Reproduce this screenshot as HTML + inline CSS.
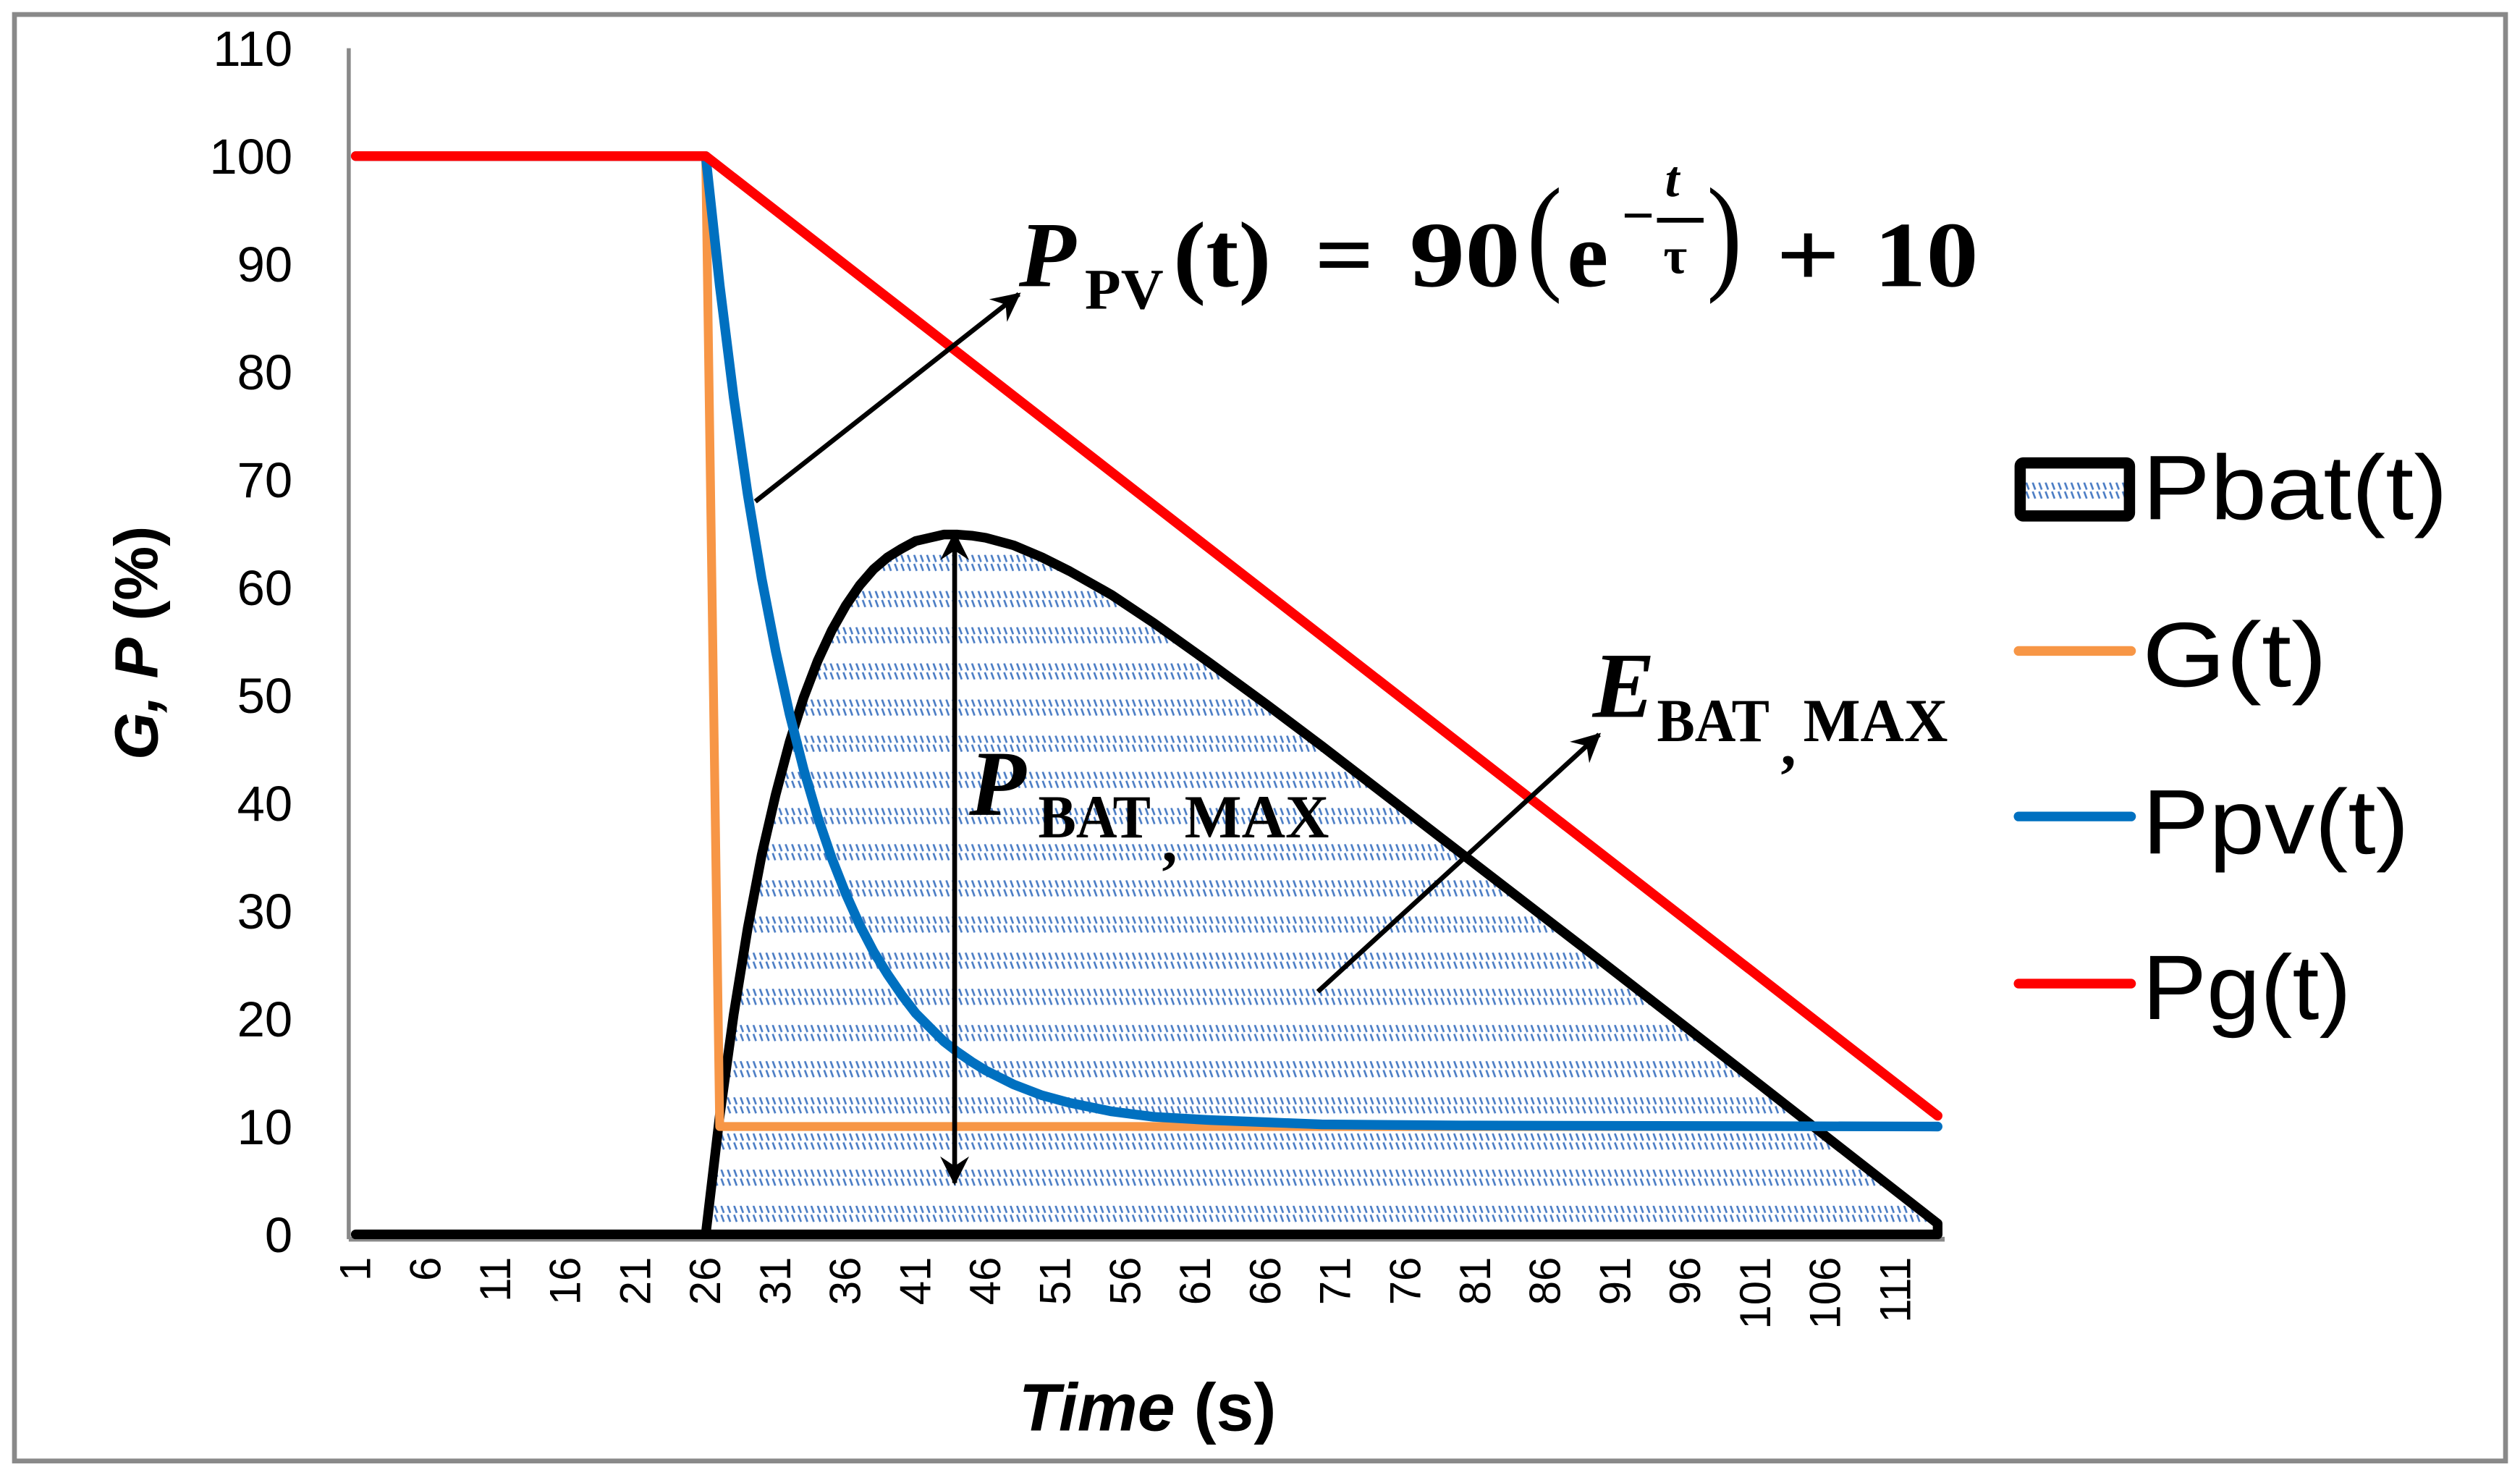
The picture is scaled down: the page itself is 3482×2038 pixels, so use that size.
<!DOCTYPE html>
<html><head><meta charset="utf-8"><style>
html,body{margin:0;padding:0;background:#fff;}
svg{display:block;}
</style></head><body>
<svg id="chart" width="3482" height="2038" viewBox="0 0 1568 917.7" xmlns="http://www.w3.org/2000/svg">
<defs>
<pattern id="hatch" patternUnits="userSpaceOnUse" x="0" y="7.7" width="4" height="22.5">
<line x1="0.8" y1="0" x2="2.4" y2="4.4" stroke="#4a7cc4" stroke-width="1.2"/>
<line x1="0.8" y1="5.6" x2="2.4" y2="10" stroke="#4a7cc4" stroke-width="1.2"/>
</pattern>
<marker id="head" viewBox="0 0 12 12" refX="11" refY="6" markerWidth="6" markerHeight="6" orient="auto-start-reverse" markerUnits="strokeWidth">
<path d="M0,0 L12,6 L0,12 L4,6 z" fill="#000"/>
</marker>
</defs>
<rect x="9" y="9" width="1550" height="900" fill="#fff" stroke="#898989" stroke-width="3"/>
<g id="plot"></g>
<g id="annot" font-family="'Liberation Serif', serif" font-weight="bold" fill="#000">
  <line x1="470" y1="312" x2="634" y2="183" stroke="#000" stroke-width="3" marker-end="url(#head)"/>
  <line x1="820" y1="617" x2="995" y2="457" stroke="#000" stroke-width="3" marker-end="url(#head)"/>
  <line x1="594" y1="332" x2="594" y2="736" stroke="#000" stroke-width="3" marker-start="url(#head)" marker-end="url(#head)"/>
  <g>
    <text x="634" y="178" font-size="58" font-style="italic">P</text>
    <text x="675" y="192" font-size="36" textLength="49" lengthAdjust="spacingAndGlyphs">PV</text>
    <text x="730" y="178" font-size="58" textLength="61" lengthAdjust="spacingAndGlyphs">(t)</text>
    <text x="818" y="178" font-size="58" textLength="37" lengthAdjust="spacingAndGlyphs">=</text>
    <text x="877" y="178" font-size="58" textLength="69" lengthAdjust="spacingAndGlyphs">90</text>
    <text x="950" y="172" font-size="80" font-weight="normal" textLength="22" lengthAdjust="spacingAndGlyphs">(</text>
    <text x="975" y="178" font-size="58">e</text>
    <text x="1009" y="146" font-size="36">−</text>
    <text x="1036" y="122" font-size="32" font-style="italic">t</text>
    <line x1="1031" y1="137" x2="1060" y2="137" stroke="#000" stroke-width="3"/>
    <text x="1035" y="170" font-size="32">τ</text>
    <text x="1062" y="172" font-size="80" font-weight="normal" textLength="22" lengthAdjust="spacingAndGlyphs">)</text>
    <text x="1105" y="178" font-size="58" textLength="40" lengthAdjust="spacingAndGlyphs">+</text>
    <text x="1166" y="178" font-size="58" textLength="65" lengthAdjust="spacingAndGlyphs">10</text>
  </g>
  <g>
    <text x="991" y="446" font-size="58" font-style="italic">E</text>
    <text x="1031" y="461" font-size="38" textLength="70" lengthAdjust="spacingAndGlyphs">BAT</text>
    <text x="1108" y="476" font-size="38">,</text>
    <text x="1122" y="461" font-size="38" textLength="90" lengthAdjust="spacingAndGlyphs">MAX</text>
  </g>
  <g>
    <text x="603" y="507" font-size="58" font-style="italic">P</text>
    <text x="646" y="521" font-size="38" textLength="70" lengthAdjust="spacingAndGlyphs">BAT</text>
    <text x="723" y="536" font-size="38">,</text>
    <text x="737" y="521" font-size="38" textLength="90" lengthAdjust="spacingAndGlyphs">MAX</text>
  </g>
</g>
<g id="legend" font-family="'Liberation Sans', sans-serif" font-size="57" fill="#000">
  <g>
    <rect x="1257" y="288" width="68" height="33" rx="2" fill="url(#hatch)" stroke="#000" stroke-width="7"/>
    <text x="1333" y="323" textLength="190" lengthAdjust="spacingAndGlyphs">Pbat(t)</text>
  </g>
  <g>
    <line x1="1256" y1="405" x2="1326" y2="405" stroke="#f79646" stroke-width="6" stroke-linecap="round"/>
    <text x="1333" y="427" textLength="115" lengthAdjust="spacingAndGlyphs">G(t)</text>
  </g>
  <g>
    <line x1="1256" y1="508" x2="1326" y2="508" stroke="#0070c0" stroke-width="6" stroke-linecap="round"/>
    <text x="1333" y="531" textLength="166" lengthAdjust="spacingAndGlyphs">Ppv(t)</text>
  </g>
  <g>
    <line x1="1256" y1="612" x2="1326" y2="612" stroke="#ff0000" stroke-width="6" stroke-linecap="round"/>
    <text x="1333" y="634" textLength="130" lengthAdjust="spacingAndGlyphs">Pg(t)</text>
  </g>
</g>
<text transform="translate(98,400) rotate(-90)" text-anchor="middle" font-family="'Liberation Sans', sans-serif" font-weight="bold" font-size="38"><tspan font-style="italic">G, P</tspan> (%)</text>
<text x="714" y="890" text-anchor="middle" font-family="'Liberation Sans', sans-serif" font-weight="bold" font-size="42"><tspan font-style="italic">Time</tspan> (s)</text>
</svg>
<script>
const nCats = 114;
const yTicks = [0,10,20,30,40,50,60,70,80,90,100,110];
const xTickLabels = [1,6,11,16,21,26,31,36,41,46,51,56,61,66,71,76,81,86,91,96,101,106,111];
const pgT = [1,26,114];
const pgV = [100,100,11];
const gT = [1,26,27,114];
const gV = [100,100,10,10];
const pvT = [1,26,27,28,29,30,31,32,33,34,35,36,37,38,39,40,41,42,43,44,45,46,48,50,52,55,58,62,66,70,80,114];
const pvV = [100,100,88,77.6,68.6,60.8,54.1,48.2,43.1,38.7,34.9,31.6,28.7,26.2,24.1,22.2,20.5,19.2,17.9,16.9,16,15.2,13.9,12.9,12.2,11.4,10.9,10.6,10.4,10.2,10.1,10];
const batT = [1,26,27,28,29,30,31,32,33,34,35,36,37,38,39,40,41,42,43,44,45,46,48,50,52,55,58,62,66,70,80,90,100,114];
const batV = [0,0,11,20.4,28.4,35.2,40.8,45.7,49.8,53.2,56,58.3,60.2,61.7,62.8,63.6,64.3,64.6,64.9,64.9,64.8,64.6,63.9,62.8,61.5,59.3,56.7,53,49.2,45.3,35.3,25.3,15.2,1];

const NS = 'http://www.w3.org/2000/svg';
const L = 217, R = 1210, Y0 = 768, YTOP = 30;
const step = (R - L) / nCats;
function xs(t){ return L + (t - 0.5) * step; }
function ys(v){ return Y0 - v * (Y0 - YTOP) / 110; }
const plot = document.getElementById('plot');
function mk(tag, attrs){ const e = document.createElementNS(NS, tag); for (const k in attrs) e.setAttribute(k, attrs[k]); plot.appendChild(e); return e; }
function pts(T, V){ return T.map((t,i)=>xs(t).toFixed(2)+','+ys(V[i]).toFixed(2)).join(' '); }

const ya = mk('line', {x1:L, y1:YTOP, x2:L, y2:Y0+3, stroke:'#898989', 'stroke-width':2.5});


const xa = mk('line', {x1:L, y1:Y0+3, x2:R, y2:Y0+3, stroke:'#898989', 'stroke-width':3});



yTicks.forEach(v=>{
  const t = mk('text', {x:182, y:ys(v)+11, 'text-anchor':'end', 'font-family':"'Liberation Sans', sans-serif", 'font-size':31});
  
  
  t.textContent = v;
});
xTickLabels.forEach(c=>{
  const x = xs(c) + 9;
  const t = mk('text', {transform:`translate(${x},782) rotate(-90)`, 'text-anchor':'end', 'font-family':"'Liberation Sans', sans-serif", 'font-size':27});
  
  
  t.textContent = c;
});

const areaPts = pts(batT, batV) + ' ' + xs(batT[batT.length-1]).toFixed(2) + ',' + ys(0) + ' ' + xs(batT[0]).toFixed(2) + ',' + ys(0);
const area = mk('polygon', {points: areaPts, fill:'url(#hatch)', stroke:'#000', 'stroke-width':6, 'stroke-linejoin':'round'});



const gLine = mk('polyline', {points: pts(gT, gV), fill:'none', stroke:'#f79646', 'stroke-width':5.5, 'stroke-linejoin':'round', 'stroke-linecap':'round'});



const pvLine = mk('polyline', {points: pts(pvT, pvV), fill:'none', stroke:'#0070c0', 'stroke-width':6, 'stroke-linejoin':'round', 'stroke-linecap':'round'});



const pgLine = mk('polyline', {points: pts(pgT, pgV), fill:'none', stroke:'#ff0000', 'stroke-width':6, 'stroke-linejoin':'round', 'stroke-linecap':'round'});


</script>
</body></html>
